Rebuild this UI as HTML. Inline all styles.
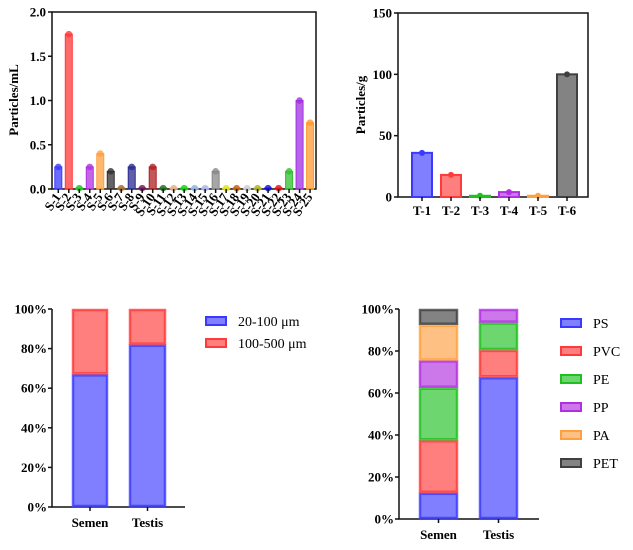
<!DOCTYPE html>
<html><head><meta charset="utf-8"><style>
body{margin:0;background:#fff;width:633px;height:550px;overflow:hidden}
svg{display:block;font-family:"Liberation Serif",serif}
.t{font-weight:bold;font-size:13px}
</style></head><body>
<svg id="s" width="633" height="550"></svg>
<script>
const semenCats=["S-1","S-2","S-3","S-4","S-5","S-6","S-7","S-8","S-9","S-10","S-11","S-12","S-13","S-14","S-15","S-16","S-17","S-18","S-19","S-20","S-21","S-22","S-23","S-24","S-25"];
const semenVals=[0.25,1.75,0.01,0.25,0.4,0.2,0.01,0.25,0.01,0.25,0.01,0.01,0.01,0.01,0.01,0.2,0.01,0.01,0.01,0.01,0.01,0.01,0.2,1.0,0.75];
const semenColors=["#3a3aff","#ff3a3a","#20c020","#b030e0","#ffa040","#303030","#a06a30","#2a2a90","#701060","#b02020","#206a20","#e0b080","#10d010","#90b0e0","#b0b0e8","#888","#e0e020","#c06010","#ccc","#b0b020","#1010d0","#e01010","#30c030","#a030e0","#ff9a30"];
const yTicks1=[0,0.5,1.0,1.5,2.0];
const testisCats=["T-1","T-2","T-3","T-4","T-5","T-6"];
const testisVals=[36,18,1,4,1,100];
const testisColors=["#3a3aff","#ff3a3a","#20c020","#b030e0","#ffa040","#404040"];
const yTicks2=[0,50,100,150];
const sizeGroups=["Semen","Testis"];
const sizeSeries=["20-100 μm","100-500 μm"];
const sizeSmall=[67,82];
const sizeLarge=[33,18];
const sizeColors=["#3a3aff","#ff3a3a"];
const polySeries=["PS","PVC","PE","PP","PA","PET"];
const polySemen=[12.5,25,25,13,17,7.5];
const polyTestis=[67.5,13,13,6.5,0,0];
const polyColors=["#3a3aff","#ff3a3a","#20c020","#b030e0","#ffa040","#404040"];
const pctTicks=["0%","20%","40%","60%","80%","100%"];

const S=document.getElementById('s');const NS="http://www.w3.org/2000/svg";
function el(t,a,txt){const e=document.createElementNS(NS,t);for(const k in a)e.setAttribute(k,a[k]);if(txt!=null)e.textContent=txt;S.appendChild(e);return e;}
// Chart 1
{const x0=52,x1=316,yb=189,yt=12,c0=58.3,dx=10.49,bw=7;const y=v=>yb-(v/2)*(yb-yt);
const f=el('rect',{x:x0,y:yt,width:x1-x0,height:yb-yt,fill:'none',stroke:'#111','stroke-width':1.5});
yTicks1.forEach(v=>{el('line',{x1:x0-4,x2:x0,y1:y(v),y2:y(v),stroke:'#111','stroke-width':1.5});const t=el('text',{x:x0-6,y:y(v)+4.5,'text-anchor':'end',class:'t'},v.toFixed(1));});
semenVals.forEach((v,i)=>{const cx=c0+i*dx,c=semenColors[i];
 const r=el('rect',{x:cx-bw/2,y:y(v),width:bw,height:yb-y(v),fill:c,'fill-opacity':0.75,stroke:c,'stroke-width':1});
 
 el('circle',{cx:cx,cy:y(v),r:3.3,fill:c,'fill-opacity':0.8});
 el('line',{x1:cx,x2:cx,y1:yb,y2:yb+4,stroke:'#111','stroke-width':1.5});
 const t=el('text',{transform:`translate(${cx+3},${yb+8}) rotate(-55)`,'text-anchor':'end',class:'t','font-size':'11px'},semenCats[i]);});
const yl=el('text',{transform:`translate(18,100) rotate(-90)`,'text-anchor':'middle',class:'t'},'Particles/mL');}
// Chart 2
{const x0=398,x1=588,yb=197,yt=13,c0=422,dx=29,bw=20;const y=v=>yb-(v/150)*(yb-yt);
const f=el('rect',{x:x0,y:yt,width:x1-x0,height:yb-yt,fill:'none',stroke:'#111','stroke-width':1.5});
yTicks2.forEach(v=>{el('line',{x1:x0-4,x2:x0,y1:y(v),y2:y(v),stroke:'#111','stroke-width':1.5});const t=el('text',{x:x0-6,y:y(v)+4.5,'text-anchor':'end',class:'t'},v);});
testisVals.forEach((v,i)=>{const cx=c0+i*dx,c=testisColors[i];
 const r=el('rect',{x:cx-bw/2,y:y(v),width:bw,height:yb-y(v),fill:c,'fill-opacity':0.65,stroke:c,'stroke-width':2});
 
 el('circle',{cx:cx,cy:y(v),r:3,fill:c});
 el('line',{x1:cx,x2:cx,y1:yb,y2:yb+4,stroke:'#111','stroke-width':1.5});
 const t=el('text',{x:cx,y:yb+18,'text-anchor':'middle',class:'t'},testisCats[i]);});
const yl=el('text',{transform:`translate(365,105) rotate(-90)`,'text-anchor':'middle',class:'t'},'Particles/g');}
// stacked helper
function stacked(x0,x1,yb,yt,bars,series,colors,lx,ly0,ldy,name){
 const y=v=>yb-(v/100)*(yb-yt);
 el('path',{d:`M${x0} ${yt}V${yb}H${x1}`,fill:'none',stroke:'#111','stroke-width':1.5});
 pctTicks.forEach((s,i)=>{const v=i*20;el('line',{x1:x0-4,x2:x0,y1:y(v),y2:y(v),stroke:'#111','stroke-width':1.5});const t=el('text',{x:x0-5,y:y(v)+4.5,'text-anchor':'end',class:'t'},s);});
 bars.forEach((b,bi)=>{let acc=0;b.vals.forEach((v,si)=>{if(v<=0)return;const c=colors[si];
   const r=el('rect',{x:b.x+1,y:y(acc+v)+1,width:b.w-2,height:y(acc)-y(acc+v)-2,fill:c,'fill-opacity':0.65,stroke:c,'stroke-width':2.5,'stroke-opacity':0.8});
   acc+=v;});
  const cx=b.x+b.w/2;el('line',{x1:cx,x2:cx,y1:yb,y2:yb+4,stroke:'#111','stroke-width':1.5});
  const t=el('text',{x:cx,y:yb+20,'text-anchor':'middle',class:'t','font-size':'13.5px'},b.name);});
 series.forEach((s,i)=>{const yy=ly0+i*ldy,c=colors[i];
  const r=el('rect',{x:lx,y:yy-4,width:20,height:8,fill:c,'fill-opacity':0.65,stroke:c,'stroke-width':2});
  const t=el('text',{x:lx+32,y:yy+5,'font-size':'14px'},s);});
}
stacked(52,185,507,309,[{name:sizeGroups[0],x:72,w:36,vals:[sizeSmall[0],sizeLarge[0]]},{name:sizeGroups[1],x:129,w:37,vals:[sizeSmall[1],sizeLarge[1]]}],sizeSeries,sizeColors,206,321,22,'chart3');
stacked(399,539,519,309,[{name:'Semen',x:419,w:39,vals:polySemen},{name:'Testis',x:479,w:39,vals:polyTestis}],polySeries,polyColors,561,323,28,'chart4');
</script>
</body></html>
